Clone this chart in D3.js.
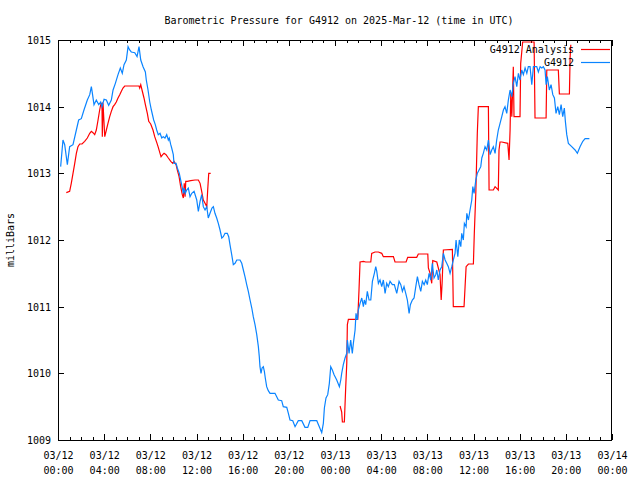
<!DOCTYPE html>
<html>
<head>
<meta charset="utf-8">
<script src="https://cdn.jsdelivr.net/npm/d3@7"></script>
<style>
  body { margin: 0; background: #fff; }
  svg { display: block; }
  text { font-family: "DejaVu Sans Mono", "Liberation Mono", monospace; font-size: 10px; fill: #000; }
</style>
</head>
<body>
<svg id="chart" width="640" height="480"></svg>
<script>
// ---- Data (hours since 2025-03-12 00:00 UTC, pressure in milliBars) ----
const titleText = "Barometric Pressure for G4912 on 2025-Mar-12 (time in UTC)";
const yAxisLabel = "milliBars";
const seriesNames = ["G4912 Analysis", "G4912"];

const xTickDates = ["03/12","03/12","03/12","03/12","03/12","03/12","03/13","03/13","03/13","03/13","03/13","03/13","03/14"];
const xTickTimes = ["00:00","04:00","08:00","12:00","16:00","20:00","00:00","04:00","08:00","12:00","16:00","20:00","00:00"];
const xMajorHours = [0,4,8,12,16,20,24,28,32,36,40,44,48];
const yTicks = [1009,1010,1011,1012,1013,1014,1015];

const stationHours = [0.23,0.43,0.58,0.81,1.01,1.30,1.59,1.79,2.02,2.25,2.54,2.75,2.89,2.97,3.12,3.32,3.53,3.70,3.81,3.99,
4.19,4.39,4.62,4.77,4.97,5.20,5.40,5.57,5.72,5.92,6.07,6.21,6.35,6.65,6.85,7.02,7.17,7.37,7.57,7.65,
7.80,7.95,8.09,8.29,8.43,8.55,8.69,8.84,8.99,9.12,9.27,9.42,9.56,9.64,9.77,9.85,9.99,10.05,10.23,10.34,
10.51,10.63,10.75,10.86,10.92,11.03,11.15,11.29,11.44,11.59,11.79,12.02,12.16,12.31,12.45,12.59,12.74,12.89,13.02,13.17,
13.34,13.46,13.60,13.75,13.89,14.04,14.19,14.32,14.47,14.67,14.79,14.90,15.05,15.19,15.34,15.49,15.77,15.92,16.06,16.20,
16.35,16.49,16.64,16.79,16.92,17.07,17.22,17.36,17.44,17.50,17.59,17.68,17.79,17.88,17.96,18.08,18.22,18.37,18.80,18.95,
19.09,19.38,19.52,19.82,19.96,20.10,20.34,20.54,20.82,21.12,21.40,21.64,21.84,22.42,22.64,22.85,22.99,23.08,23.22,23.37,
23.51,23.63,23.77,23.92,24.15,24.38,24.50,24.58,24.72,24.87,25.02,25.07,25.22,25.36,25.50,25.59,25.74,25.82,25.94,26.02,
26.17,26.32,26.46,26.54,26.66,26.80,26.95,27.10,27.24,27.41,27.53,27.62,27.76,27.90,28.05,28.19,28.34,28.48,28.62,28.77,
28.97,29.14,29.35,29.55,29.70,29.84,29.98,30.13,30.27,30.42,30.53,30.70,30.85,31.00,31.14,31.28,31.43,31.57,31.72,31.86,
32.00,32.15,32.30,32.43,32.58,32.73,32.82,32.95,33.10,33.25,33.39,33.54,33.68,33.82,33.97,34.12,34.25,34.40,34.49,34.64,
34.77,34.90,34.98,35.12,35.21,35.36,35.42,35.56,35.70,35.85,35.94,36.05,36.20,36.33,36.48,36.63,36.72,36.85,37.00,37.15,
37.29,37.44,37.58,37.72,37.87,38.01,38.15,38.30,38.45,38.59,38.73,38.88,39.02,39.17,39.32,39.45,39.60,39.75,39.89,40.03,
40.18,40.32,40.47,40.62,40.75,40.90,41.05,41.19,41.48,41.62,41.77,41.92,42.05,42.20,42.29,42.40,42.57,42.72,42.87,43.01,
43.15,43.30,43.44,43.59,43.73,43.87,43.96,44.08,44.22,44.51,44.80,45.00,45.23,45.47,45.67,46.04];

const stationPressure = [1013.10,1013.50,1013.43,1013.13,1013.40,1013.43,1013.65,1013.80,1013.82,1013.95,1014.10,1014.18,1014.30,1014.21,1014.03,1014.10,1014.03,1014.07,1014.00,1014.11,
1014.10,1014.02,1014.10,1014.25,1014.35,1014.48,1014.58,1014.50,1014.63,1014.70,1014.90,1014.85,1014.82,1014.81,1014.75,1014.90,1014.70,1014.60,1014.52,1014.40,
1014.25,1014.07,1013.95,1013.80,1013.73,1013.65,1013.58,1013.60,1013.53,1013.55,1013.53,1013.58,1013.50,1013.53,1013.43,1013.38,1013.28,1013.15,1013.15,1013.08,
1013.00,1012.90,1012.80,1012.70,1012.78,1012.70,1012.75,1012.78,1012.65,1012.70,1012.73,1012.60,1012.43,1012.58,1012.68,1012.50,1012.45,1012.50,1012.33,1012.40,
1012.48,1012.50,1012.40,1012.33,1012.25,1012.15,1012.03,1012.05,1012.10,1012.10,1012.05,1011.93,1011.78,1011.63,1011.65,1011.70,1011.70,1011.65,1011.55,1011.45,
1011.33,1011.23,1011.10,1010.98,1010.85,1010.73,1010.58,1010.40,1010.25,1010.10,1010.00,1010.08,1010.10,1010.03,1009.93,1009.80,1009.74,1009.70,1009.70,1009.65,
1009.60,1009.59,1009.50,1009.49,1009.40,1009.30,1009.29,1009.20,1009.29,1009.29,1009.19,1009.19,1009.29,1009.29,1009.20,1009.11,1009.25,1009.48,1009.63,1009.68,
1009.85,1010.10,1010.05,1009.98,1009.90,1009.80,1009.90,1010.00,1010.13,1010.23,1010.30,1010.50,1010.30,1010.50,1010.30,1010.45,1010.65,1010.90,1010.80,1010.95,
1011.05,1011.13,1011.00,1011.10,1011.03,1011.23,1011.10,1011.10,1011.38,1011.50,1011.60,1011.53,1011.35,1011.40,1011.30,1011.40,1011.20,1011.35,1011.30,1011.38,
1011.33,1011.33,1011.20,1011.38,1011.33,1011.23,1011.30,1011.20,1011.10,1010.90,1011.03,1011.10,1011.13,1011.30,1011.45,1011.33,1011.23,1011.38,1011.33,1011.40,
1011.33,1011.50,1011.40,1011.65,1011.43,1011.48,1011.55,1011.40,1011.55,1011.60,1011.80,1011.70,1011.65,1011.60,1011.50,1011.60,1011.70,1011.80,1012.00,1011.75,
1012.00,1011.90,1012.10,1012.00,1012.25,1012.20,1012.40,1012.30,1012.45,1012.60,1012.80,1012.70,1012.90,1013.00,1013.05,1013.10,1013.23,1013.30,1013.40,1013.35,
1013.50,1013.28,1013.35,1013.40,1013.30,1013.50,1013.65,1013.75,1013.85,1013.95,1014.00,1013.90,1014.10,1014.25,1014.15,1014.35,1014.45,1014.30,1014.50,1014.40,
1014.55,1014.48,1014.58,1014.50,1014.60,1014.60,1014.33,1014.60,1014.60,1014.52,1014.60,1014.58,1014.60,1014.55,1014.33,1014.45,1014.25,1014.33,1014.18,1014.13,
1013.90,1014.00,1013.88,1014.03,1013.85,1013.98,1013.78,1013.58,1013.45,1013.40,1013.35,1013.30,1013.40,1013.48,1013.52,1013.52];

// Analysis, first run (03/12 morning)
const analysisAHours = [0.72,1.01,1.15,1.30,1.45,1.59,1.73,1.88,2.08,2.31,2.54,2.75,2.89,3.03,3.18,3.32,3.47,3.61,3.70,3.81,
3.84,3.90,4.05,4.19,4.33,4.48,4.62,4.77,4.91,5.05,5.20,5.35,5.49,5.63,5.78,7.02,7.08,7.17,7.28,7.45,
7.57,7.74,7.86,8.03,8.23,8.38,8.58,8.67,8.84,8.93,9.07,9.19,9.36,9.56,9.77,9.94,10.05,10.23,10.34,10.49,
10.63,10.77,10.86,10.94,11.01,11.07,11.20,11.50,11.87,12.16,12.31,12.45,12.59,12.74,12.89,12.97,13.06,13.23];
const analysisAPressure = [1012.71,1012.73,1012.85,1013.00,1013.15,1013.30,1013.40,1013.44,1013.44,1013.48,1013.53,1013.60,1013.63,1013.61,1013.58,1013.65,1013.80,1013.95,1014.03,1014.05,
1013.55,1014.05,1013.55,1013.65,1013.75,1013.85,1013.93,1014.00,1014.03,1014.07,1014.13,1014.18,1014.23,1014.28,1014.31,1014.31,1014.28,1014.33,1014.25,1014.13,
1014.03,1013.90,1013.78,1013.74,1013.65,1013.55,1013.45,1013.40,1013.30,1013.25,1013.28,1013.30,1013.28,1013.23,1013.18,1013.15,1013.18,1013.13,1013.05,1012.95,
1012.80,1012.68,1012.63,1012.85,1012.65,1012.88,1012.88,1012.89,1012.90,1012.90,1012.85,1012.73,1012.60,1012.55,1012.50,1012.75,1013.00,1013.00];

// Analysis, second run (03/13)
const analysisBHours = [24.44,24.58,24.64,24.81,24.93,25.02,25.07,25.16,25.97,26.08,26.17,26.46,26.66,27.10,27.18,27.47,27.76,28.05,28.19,29.06,
29.20,30.16,30.30,31.08,31.22,32.04,32.09,32.24,32.38,32.47,32.82,33.10,33.20,33.28,33.39,34.17,34.25,35.18,35.27,35.36,
35.56,35.99,36.07,36.20,36.33,36.42,37.29,37.35,37.72,37.87,38.15,38.21,38.30,38.45,38.97,39.08,39.17,39.23,39.32,39.45,
39.51,40.03,40.09,40.18,40.26,41.25,41.33,42.29,42.35,43.35,43.44,44.31,44.37,44.43];
const analysisBPressure = [1009.51,1009.42,1009.27,1009.27,1009.80,1010.15,1010.73,1010.81,1010.81,1011.25,1011.67,1011.68,1011.67,1011.67,1011.80,1011.82,1011.82,1011.80,1011.75,1011.75,
1011.67,1011.67,1011.74,1011.74,1011.79,1011.79,1011.58,1011.50,1011.35,1011.69,1011.67,1011.48,1011.10,1011.35,1011.85,1011.86,1011.00,1011.00,1011.30,1011.60,
1011.64,1011.64,1012.10,1012.70,1013.60,1014.00,1014.00,1012.75,1012.75,1012.80,1012.75,1013.35,1013.47,1013.47,1013.45,1013.20,1013.65,1014.20,1013.85,1014.60,
1013.85,1013.85,1014.65,1014.82,1014.97,1014.97,1013.83,1013.83,1014.55,1014.55,1014.19,1014.19,1014.73,1014.93];

// ---- Chart ----
const W = 640, H = 480;
const margin = { left: 58, right: 28, top: 40, bottom: 40 };
const svg = d3.select("#chart");

const x = d3.scaleLinear().domain([0, 48]).range([margin.left, W - margin.right]);
const y = d3.scaleLinear().domain([1009, 1015]).range([H - margin.bottom, margin.top]);

const zip = (hs, ps) => hs.map((h, i) => ({ h, p: ps[i] }));
const station = zip(stationHours, stationPressure);
const analysisA = zip(analysisAHours, analysisAPressure);
const analysisB = zip(analysisBHours, analysisBPressure);

const minorHours = d3.range(0, 49, 1);

// bottom axis: minor + major (inward ticks)
svg.append("g").attr("transform", `translate(0,${y(1009)})`)
  .call(d3.axisBottom(x).tickValues(minorHours).tickSize(-3).tickFormat(""))
  .call(g => g.select(".domain").remove());
const bottom = svg.append("g").attr("transform", `translate(0,${y(1009)})`)
  .call(d3.axisBottom(x).tickValues(xMajorHours).tickSize(-6).tickPadding(0).tickFormat(""))
  .call(g => g.select(".domain").remove());
bottom.selectAll(".tick text").remove();
bottom.selectAll(".tick").each(function(d, i) {
  const t = d3.select(this).append("text").attr("text-anchor", "middle");
  t.append("tspan").attr("x", 0).attr("y", 18.5).text(xTickDates[i]);
  t.append("tspan").attr("x", 0).attr("y", 33.5).text(xTickTimes[i]);
});

// top axis (mirror)
svg.append("g").attr("transform", `translate(0,${y(1015)})`)
  .call(d3.axisTop(x).tickValues(minorHours).tickSize(-3).tickFormat(""))
  .call(g => g.select(".domain").remove());
svg.append("g").attr("transform", `translate(0,${y(1015)})`)
  .call(d3.axisTop(x).tickValues(xMajorHours).tickSize(-6).tickFormat(""))
  .call(g => g.select(".domain").remove());

// left axis
svg.append("g").attr("transform", `translate(${x(0)},0)`)
  .call(d3.axisLeft(y).tickValues(yTicks).tickSize(-6).tickPadding(7).tickFormat(d3.format("d")))
  .call(g => g.select(".domain").remove())
  .call(g => g.selectAll("text").attr("dy", "0.36em"));

// right axis (mirror)
svg.append("g").attr("transform", `translate(${x(48)},0)`)
  .call(d3.axisRight(y).tickValues(yTicks).tickSize(-6).tickFormat(""))
  .call(g => g.select(".domain").remove());

svg.selectAll(".tick line").attr("stroke", "#000").attr("shape-rendering", "crispEdges");
svg.selectAll(".tick text").style("font-family", "DejaVu Sans Mono, monospace").style("font-size", "10px");

// border
svg.append("rect")
  .attr("x", x(0) + 0.5).attr("y", y(1015) + 0.5)
  .attr("width", x(48) - x(0) - 1).attr("height", y(1009) - y(1015))
  .attr("fill", "none").attr("stroke", "#000").attr("shape-rendering", "crispEdges");

// lines
const line = d3.line().x(d => x(d.h)).y(d => y(d.p));
const red = "#ff0000", blue = "#0a84ff";

svg.append("path").datum(analysisA).attr("d", line)
  .attr("fill", "none").attr("stroke", red).attr("stroke-width", 1.2);
svg.append("path").datum(analysisB).attr("d", line)
  .attr("fill", "none").attr("stroke", red).attr("stroke-width", 1.2);
svg.append("path").datum(station).attr("d", line)
  .attr("fill", "none").attr("stroke", blue).attr("stroke-width", 1.2);

// title
svg.append("text").attr("x", 339).attr("y", 24).attr("text-anchor", "middle").text(titleText);

// y label
svg.append("text").attr("transform", `translate(14,240) rotate(-90)`)
  .attr("text-anchor", "middle").text(yAxisLabel);

// legend
const legend = svg.append("g");
const legendColors = [red, blue];
seriesNames.forEach((name, i) => {
  const yy = 49 + i * 13;
  legend.append("text").attr("x", 574).attr("y", yy + 3.6).attr("text-anchor", "end").text(name);
  legend.append("line").attr("x1", 581).attr("x2", 610).attr("y1", yy + 0.5).attr("y2", yy + 0.5)
    .attr("stroke", legendColors[i]).attr("stroke-width", 1.2);
});
</script>
</body>
</html>
